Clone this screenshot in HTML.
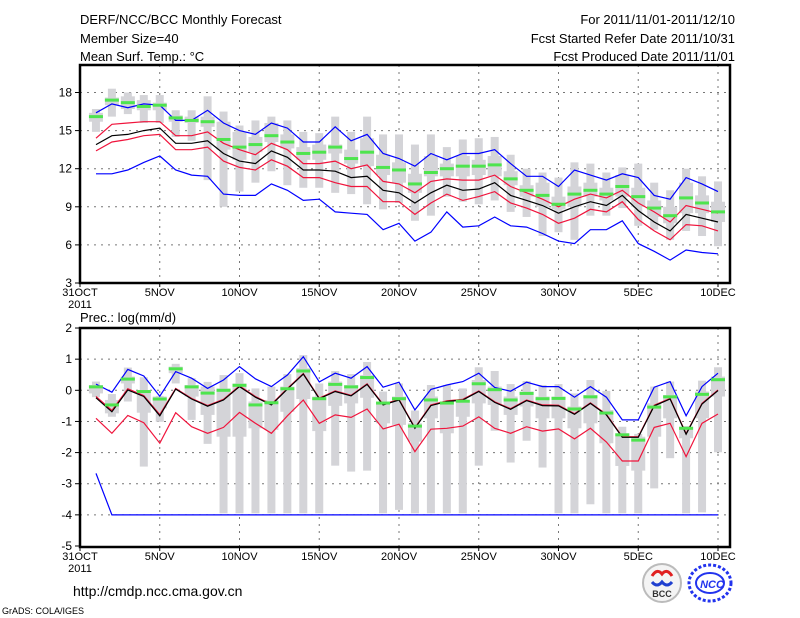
<!DOCTYPE html>
<html><head><meta charset="utf-8"><style>
html,body{margin:0;padding:0;background:#fff;width:800px;height:618px;overflow:hidden}
svg{display:block;font-family:"Liberation Sans",sans-serif}
</style></head><body>
<svg id="chart" width="800" height="618" viewBox="0 0 800 618">
<g font-size="13" fill="#000">
<text x="80" y="24">DERF/NCC/BCC Monthly Forecast</text>
<text x="80" y="43">Member Size=40</text>
<text x="80" y="61">Mean Surf. Temp.: °C</text>
<text x="735" y="24" text-anchor="end">For 2011/11/01-2011/12/10</text>
<text x="735" y="43" text-anchor="end">Fcst Started Refer Date 2011/10/31</text>
<text x="735" y="61" text-anchor="end">Fcst Produced Date 2011/11/01</text>
<text x="80" y="322">Prec.: log(mm/d)</text>
<text x="73" y="596" font-size="14">http://cmdp.ncc.cma.gov.cn</text>
<text x="2" y="614" font-size="9">GrADS: COLA/IGES</text>
</g>
<g id="top"></g>
<g id="bot"></g>
<g>
<circle cx="662" cy="583" r="19" fill="#f4f4f4" stroke="#bbb" stroke-width="2"/>
<path d="M652 576 q5 -8 10 -2 q5 -6 10 2" fill="none" stroke="#e02020" stroke-width="3"/>
<path d="M652 582 q5 6 10 0 q5 6 10 0" fill="none" stroke="#2040d0" stroke-width="3"/>
<text x="662" y="597" font-size="9" font-weight="bold" text-anchor="middle" fill="#333">BCC</text>
</g>
<g>
<ellipse cx="710" cy="583" rx="21" ry="18" fill="none" stroke="#2233ee" stroke-width="3" stroke-dasharray="3,2"/>
<ellipse cx="710" cy="583" rx="14" ry="10" fill="none" stroke="#2233ee" stroke-width="2"/>
<text x="712" y="588" font-size="11" font-style="italic" font-weight="bold" text-anchor="middle" fill="#2233ee">NCC</text>
</g>
</svg>
<script>
// ---- temperature data (days 1..40) ----
const days = [1,2,3,4,5,6,7,8,9,10,11,12,13,14,15,16,17,18,19,20,21,22,23,24,25,26,27,28,29,30,31,32,33,34,35,36,37,38,39,40];
const xTickDays = [0,5,10,15,20,25,30,35,40];
const xTickLabels = ["31OCT","5NOV","10NOV","15NOV","20NOV","25NOV","30NOV","5DEC","10DEC"];
const tTicks = [3,6,9,12,15,18];
const pTicks = [2,1,0,-1,-2,-3,-4,-5];
const tBlueUp = [16.4,17.1,16.8,17.1,17.0,15.8,15.8,16.6,15.6,15.0,14.7,15.6,15.2,14.1,14.1,15.3,14.2,14.7,13.2,12.8,12.2,13.2,12.7,13.2,13.2,13.5,12.4,11.4,11.4,10.6,11.9,11.5,11.1,11.6,11.3,9.9,9.6,11.3,10.8,10.2];
const tRedUp = [14.4,15.5,15.6,15.7,15.7,14.6,14.6,14.9,14.0,13.5,13.1,14.0,13.5,12.4,12.4,12.6,12.0,12.3,11.0,10.8,10.1,11.0,11.2,11.1,11.1,11.5,10.6,10.1,9.6,9.0,9.6,10.0,9.7,10.3,9.3,8.6,7.8,9.1,8.8,8.5];
const tBlack = [13.9,14.6,14.7,15.0,15.2,14.0,14.0,14.2,13.2,12.6,12.4,13.4,12.9,11.9,11.9,11.8,11.3,11.4,10.3,10.1,9.3,10.1,10.7,10.3,10.4,10.9,9.9,9.5,9.1,8.5,9.0,9.4,9.1,9.9,8.7,7.8,7.1,8.4,8.1,7.8];
const tRedLow = [13.4,14.1,14.3,14.6,14.7,13.5,13.5,13.7,12.6,12.1,11.9,12.7,12.2,11.3,11.3,10.9,10.6,10.6,9.4,9.4,8.4,9.3,10.0,9.5,9.8,10.2,9.3,8.9,8.4,7.7,8.1,8.8,8.6,9.4,8.0,7.1,6.4,7.6,7.5,7.1];
const tBlueLow = [11.6,11.6,11.9,12.5,13.0,11.9,11.5,11.4,10.0,9.9,9.9,10.8,10.3,9.5,9.6,8.6,8.5,8.4,7.2,7.7,6.3,7.0,8.6,7.4,7.5,8.2,7.5,7.4,6.9,6.3,6.1,7.2,7.2,7.9,6.1,5.5,4.8,5.6,5.4,5.3];
const tMean = [16.1,17.4,17.2,16.9,17.0,16.0,15.8,15.7,14.3,13.7,13.9,14.6,14.1,13.2,13.3,13.7,12.8,13.3,12.1,11.9,10.8,11.7,12.0,12.2,12.2,12.3,11.2,10.3,9.9,9.2,10.0,10.3,10.0,10.6,9.8,8.9,8.3,9.7,9.3,8.6];
const tMax = [16.7,18.3,18.0,17.8,17.8,16.6,16.6,17.7,16.5,15.4,15.8,16.1,15.8,14.9,14.8,16.1,14.9,16.1,14.7,14.7,13.9,14.7,13.7,14.3,14.4,14.5,13.1,12.0,11.7,11.3,12.5,12.4,11.7,12.1,12.4,10.9,10.3,12.0,11.4,11.0];
const tMin = [14.9,16.1,16.3,15.6,15.6,14.5,14.2,11.1,9.0,10.2,10.9,11.8,10.7,10.5,10.5,10.1,10.0,9.2,8.8,9.3,7.9,8.3,9.8,9.4,9.2,9.5,8.6,8.2,6.7,7.0,6.4,8.3,8.3,8.9,7.5,7.2,6.4,7.1,6.7,5.9];
const tQ3 = [16.4,17.6,17.7,17.4,17.2,16.2,16.1,16.1,15.7,14.9,14.5,15.6,14.7,13.7,13.9,13.9,13.5,14.4,13.1,12.5,11.6,13.0,12.4,13.0,12.7,13.0,11.8,10.7,10.9,9.8,10.6,10.9,10.5,11.5,10.5,9.5,9.0,10.9,9.9,9.4];
const tQ1 = [15.7,17.0,16.7,16.6,16.6,15.7,15.6,15.3,13.5,12.7,13.3,14.1,13.6,12.7,12.7,13.2,12.4,12.2,11.5,10.9,10.1,11.4,11.4,11.4,11.5,11.4,10.7,9.8,9.0,8.8,9.0,9.8,9.5,9.8,9.0,8.2,7.7,8.5,8.5,7.8];
// ---- precipitation data (log mm/d) ----
const pBlueUp = [0.20,-0.06,0.67,0.46,-0.19,0.60,0.39,0.06,0.33,0.76,0.37,0.12,0.49,1.08,0.27,0.55,0.39,0.76,0.10,0.26,-0.63,0.03,0.17,0.28,0.55,0.09,-0.03,0.26,0.12,0.12,-0.22,0.12,-0.22,-0.95,-0.95,0.10,0.28,-0.82,0.12,0.55];
const pRedUp = [-0.20,-0.65,0.05,-0.17,-0.78,0.06,-0.26,-0.49,-0.29,0.14,-0.20,-0.45,0.06,0.54,-0.25,-0.02,-0.16,0.21,-0.45,-0.29,-1.20,-0.47,-0.34,-0.29,-0.02,-0.37,-0.59,-0.31,-0.47,-0.48,-0.75,-0.40,-0.77,-1.49,-1.49,-0.48,-0.26,-1.39,-0.42,0.01];
const pBlack = [-0.24,-0.69,0.01,-0.20,-0.82,0.04,-0.28,-0.51,-0.31,0.12,-0.22,-0.47,0.04,0.52,-0.27,-0.04,-0.18,0.19,-0.47,-0.31,-1.22,-0.49,-0.36,-0.31,-0.04,-0.39,-0.61,-0.33,-0.49,-0.50,-0.77,-0.42,-0.79,-1.51,-1.51,-0.50,-0.28,-1.41,-0.44,-0.01];
const pRedLow = [-0.90,-1.38,-0.81,-1.04,-1.70,-0.72,-1.17,-1.38,-1.19,-0.71,-1.06,-1.38,-0.82,-0.31,-1.06,-0.79,-0.87,-0.60,-1.24,-1.09,-1.97,-1.25,-1.22,-1.15,-0.85,-1.22,-1.38,-1.17,-1.31,-1.24,-1.56,-1.22,-1.66,-2.27,-2.27,-1.19,-1.06,-2.13,-1.06,-0.76];
const pBlueLow = [-2.67,-4,-4,-4,-4,-4,-4,-4,-4,-4,-4,-4,-4,-4,-4,-4,-4,-4,-4,-4,-4,-4,-4,-4,-4,-4,-4,-4,-4,-4,-4,-4,-4,-4,-4,-4,-4,-4,-4,-4];
const pMean = [0.11,-0.47,0.36,-0.04,-0.28,0.69,0.11,-0.09,0.00,0.16,-0.47,-0.40,0.05,0.62,-0.27,0.19,0.11,0.41,-0.41,-0.27,-1.15,-0.31,-0.41,-0.35,0.21,0.02,-0.31,-0.10,-0.27,-0.26,-0.60,-0.21,-0.73,-1.43,-1.60,-0.54,-0.21,-1.22,-0.13,0.34];
const pMax = [0.28,-0.12,0.73,0.42,-0.18,0.85,0.39,0.27,0.49,0.55,0.06,0.12,0.52,1.13,0.22,0.62,0.52,0.91,-0.04,0.22,-0.65,0.17,0.17,0.06,0.74,0.62,0.20,0.30,0.17,0.20,-0.10,0.33,-0.02,-1.17,-1.40,0.12,0.28,-1.15,0.31,0.74];
const pMin = [-0.22,-0.85,-0.36,-2.45,-1.01,0.22,-0.95,-1.72,-3.95,-3.95,-3.95,-3.95,-3.95,-3.95,-3.95,-2.42,-2.61,-2.58,-3.95,-3.84,-3.95,-3.95,-3.95,-3.95,-2.42,-1.30,-2.32,-1.62,-2.48,-3.95,-3.95,-3.66,-3.95,-3.95,-3.95,-3.15,-2.18,-3.95,-3.92,-1.99];
const pQ3 = [0.17,-0.31,0.44,0.01,-0.20,0.76,0.17,0.12,0.06,0.22,-0.36,-0.31,0.12,0.71,-0.20,0.28,0.17,0.49,-0.36,-0.20,-1.06,-0.20,-0.36,-0.31,0.33,0.12,-0.20,-0.04,-0.20,-0.20,-0.52,-0.15,-0.63,-1.38,-1.49,-0.42,-0.15,-1.17,-0.04,0.44];
const pQ1 = [-0.10,-0.74,0.22,-0.72,-0.58,0.55,-0.20,-0.79,-1.49,-1.49,-1.22,-1.27,-0.69,-0.28,-1.31,-0.50,-0.42,-0.24,-1.06,-1.11,-1.65,-0.90,-1.38,-0.85,-0.42,-0.47,-0.79,-0.52,-0.90,-0.90,-1.22,-1.06,-1.70,-2.43,-2.58,-1.49,-0.90,-1.54,-0.90,-0.20];

const NS = "http://www.w3.org/2000/svg";
const X0 = 80, X1 = 730;
function xs(d){ return 80 + d*15.95; }
function yT(v){ return 283 - (v-3)*12.7; }
function yP(v){ return 390.3 - v*31.14; }
function mk(tag, attrs, parent){
  const e = document.createElementNS(NS, tag);
  for (const k in attrs) e.setAttribute(k, attrs[k]);
  parent.appendChild(e); return e;
}
function panel(g, top, bottom, ticks, yf, maxArr, minArr, q3Arr, q1Arr, meanArr, lines, showYear){
  // grid
  ticks.forEach(t => {
    const y = yf(t);
    if (y > top+1 && y < bottom-1) {
      const gl = mk('line',{x1:X0,x2:X1,y1:y,y2:y,stroke:'#777','stroke-width':1,'stroke-dasharray':'2,5'},g);
      
      
    }
    const tk = mk('line',{x1:X0-5,x2:X0,y1:y,y2:y,stroke:'#000','stroke-width':1},g);
    
    
    const tl = mk('text',{x:X0-8,y:y+4,'font-size':12,'text-anchor':'end'},g);
    tl.textContent = t;
    
    
  });
  xTickDays.forEach((d,i) => {
    const x = xs(d);
    if (d > 0) {
      const gl = mk('line',{x1:x,x2:x,y1:top,y2:bottom,stroke:'#777','stroke-width':1,'stroke-dasharray':'2,5'},g);
      
      
    }
    const tk = mk('line',{x1:x,x2:x,y1:bottom,y2:bottom+4,stroke:'#000'},g);
    
    
    const tl = mk('text',{x:x,y:bottom+13,'font-size':11,'text-anchor':'middle'},g);
    tl.textContent = xTickLabels[i];
    
    
  });
  const yr = mk('text',{x:X0,y:bottom+25,'font-size':11,'text-anchor':'middle'},g);
  yr.textContent = '2011';
  
  
  // boxes
  days.forEach((d,i) => {
    const x = xs(d);
    const w = mk('rect',{x:x-4,y:yf(maxArr[i]),width:8,height:Math.max(1,yf(minArr[i])-yf(maxArr[i])),fill:'#d4d4d8'},g);
    
    
    const b = mk('rect',{x:x-7,y:yf(q3Arr[i]),width:14,height:Math.max(1,yf(q1Arr[i])-yf(q3Arr[i])),fill:'#d4d4d8'},g);
    
    
  });
  lines.forEach(([arr,col,name]) => {
    const pts = days.map((d,i)=> xs(d).toFixed(1)+','+yf(arr[i]).toFixed(1)).join(' ');
    const pl = mk('polyline',{points:pts,fill:'none',stroke:col,'stroke-width':1.2},g);
    
    
  });
  days.forEach((d,i) => {
    const m = mk('rect',{x:xs(d)-7,y:yf(meanArr[i])-1.5,width:14,height:3,fill:'#4ee44e'},g);
    
    
  });
  const fr = mk('rect',{x:X0,y:top,width:X1-X0,height:bottom-top,fill:'none',stroke:'#000','stroke-width':2.5},g);
  
  
}
const gt = document.getElementById('top');
panel(gt, 65, 283, tTicks, yT, tMax, tMin, tQ3, tQ1, tMean,
  [[tBlueUp,'#0000ff','blue-upper-line'],[tBlueLow,'#0000ff','blue-lower-line'],[tRedUp,'#f0143c','red-upper-line'],[tRedLow,'#f0143c','red-lower-line'],[tBlack,'#000','black-median-line']]);
const gb = document.getElementById('bot');
panel(gb, 328, 547, pTicks, yP, pMax, pMin, pQ3, pQ1, pMean,
  [[pBlueUp,'#0000ff','blue-upper-line'],[pBlueLow,'#0000ff','blue-lower-line'],[pRedUp,'#f0143c','red-upper-line'],[pRedLow,'#f0143c','red-lower-line'],[pBlack,'#000','black-median-line']]);
</script>
</body></html>
